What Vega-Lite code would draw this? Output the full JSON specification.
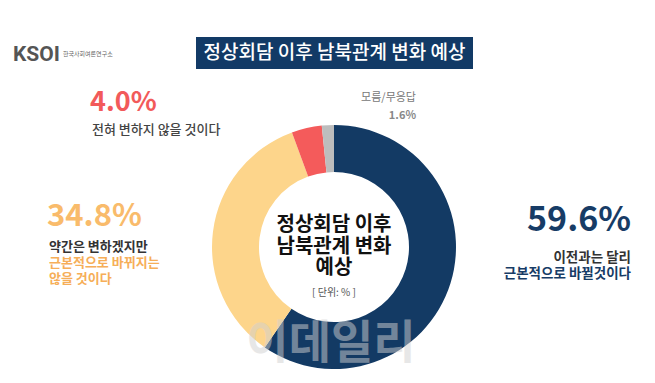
{
  "$schema": "https://vega.github.io/schema/vega-lite/v6.json",
  "width": 655,
  "height": 383,
  "autosize": {"type": "fit", "contains": "padding"},
  "padding": 0,
  "background": "white",
  "config": {"view": {"stroke": null}, "font": "Noto Sans CJK KR"},
  "data": {"values": [
    {"cat": "근본적으로 바뀔 것", "share": 0.596, "ord": 1},
    {"cat": "약간 변하지만 근본적으로는 아님", "share": 0.348, "ord": 2},
    {"cat": "전혀 변하지 않을 것", "share": 0.040, "ord": 3},
    {"cat": "모름/무응답", "share": 0.016, "ord": 4}
  ]},
  "layer": [
    {
      "data": {"values": [{}]},
      "layer": [
        {"mark": {"type": "rect", "x": 195, "x2": 472, "y": 36, "y2": 68, "color": "#123a66"}, "encoding": {}},
        {"mark": {"type": "text", "text": "정상회담 이후 남북관계 변화 예상", "x": 333.5, "y": 52, "align": "center", "baseline": "middle", "fontSize": 19, "fontWeight": 500, "color": "white"}},
        {"mark": {"type": "text", "text": "KSOI", "x": 12, "y": 60, "align": "left", "baseline": "alphabetic", "fontSize": 21, "fontWeight": "bold", "color": "#555555", "font": "Roboto"}},
        {"mark": {"type": "rule", "x": 61, "x2": 117, "y": 46, "y2": 46, "color": "#cccccc", "strokeWidth": 0.5}, "encoding": {}},
        {"mark": {"type": "rule", "x": 61, "x2": 117, "y": 59, "y2": 59, "color": "#cccccc", "strokeWidth": 0.5}, "encoding": {}},
        {"mark": {"type": "text", "text": "한국사회여론연구소", "x": 62, "y": 55, "align": "left", "baseline": "alphabetic", "fontSize": 6, "color": "#666666"}},
        {"mark": {"type": "rule", "x": 90, "x2": 306, "y": 115, "y2": 115, "color": "#aaaaaa", "strokeWidth": 1}, "encoding": {}},
        {"mark": {"type": "rule", "x": 306, "x2": 306, "y": 115, "y2": 127, "color": "#aaaaaa", "strokeWidth": 1}, "encoding": {}},
        {"mark": {"type": "rule", "x": 326, "x2": 415, "y": 104, "y2": 104, "color": "#aaaaaa", "strokeWidth": 1}, "encoding": {}},
        {"mark": {"type": "rule", "x": 326, "x2": 326, "y": 104, "y2": 124, "color": "#aaaaaa", "strokeWidth": 1}, "encoding": {}},
        {"mark": {"type": "rule", "x": 48, "x2": 213, "y": 232, "y2": 232, "color": "#aaaaaa", "strokeWidth": 1}, "encoding": {}},
        {"mark": {"type": "rule", "x": 454, "x2": 632, "y": 240, "y2": 240, "color": "#aaaaaa", "strokeWidth": 1}, "encoding": {}},
        {"mark": {"type": "text", "text": "전혀 변하지 않을 것이다", "x": 91, "y": 133, "align": "left", "baseline": "alphabetic", "fontSize": 13, "fontWeight": 500, "color": "#444444"}},
        {"mark": {"type": "text", "text": "약간은 변하겠지만", "x": 48, "y": 250, "align": "left", "baseline": "alphabetic", "fontSize": 13, "fontWeight": "bold", "color": "#333333"}},
        {"mark": {"type": "text", "text": ["근본적으로 바뀌지는", "않을 것이다"], "x": 48, "y": 266, "lineHeight": 15.5, "align": "left", "baseline": "alphabetic", "fontSize": 13, "fontWeight": "bold", "color": "#f6ae58"}},
        {"mark": {"type": "text", "text": "이전과는 달리", "x": 630, "y": 261, "align": "right", "baseline": "alphabetic", "fontSize": 13.5, "fontWeight": "bold", "color": "#333333"}},
        {"mark": {"type": "text", "text": "근본적으로 바뀔것이다", "x": 630, "y": 277, "align": "right", "baseline": "alphabetic", "fontSize": 13.5, "fontWeight": "bold", "color": "#173c66"}},
        {"mark": {"type": "text", "text": "모름/무응답", "x": 415, "y": 100, "align": "right", "baseline": "alphabetic", "fontSize": 11, "color": "#777777"}}
      ]
    },
    {
      "mark": {"type": "arc", "x": 333, "y": 246, "outerRadius": 122, "innerRadius": 75},
      "encoding": {
        "theta": {"field": "share", "type": "quantitative", "stack": true},
        "order": {"field": "ord", "type": "quantitative"},
        "color": {
          "field": "cat", "type": "nominal",
          "scale": {
            "domain": ["근본적으로 바뀔 것", "약간 변하지만 근본적으로는 아님", "전혀 변하지 않을 것", "모름/무응답"],
            "range": ["#133a64", "#fdd58b", "#f45b5b", "#bdbdbd"]
          },
          "legend": null
        }
      }
    },
    {
      "transform": [{"filter": "datum.ord == 3"}],
      "mark": {"type": "text", "x": 89, "y": 110, "align": "left", "baseline": "alphabetic", "fontSize": 27, "fontWeight": "bold", "color": "#f25a5a"},
      "encoding": {"text": {"field": "share", "type": "quantitative", "format": ".1%"}}
    },
    {
      "transform": [{"filter": "datum.ord == 2"}],
      "mark": {"type": "text", "x": 46, "y": 225, "align": "left", "baseline": "alphabetic", "fontSize": 31, "fontWeight": "bold", "color": "#f9bb6b"},
      "encoding": {"text": {"field": "share", "type": "quantitative", "format": ".1%"}}
    },
    {
      "transform": [{"filter": "datum.ord == 1"}],
      "mark": {"type": "text", "x": 630, "y": 230, "align": "right", "baseline": "alphabetic", "fontSize": 34, "fontWeight": "bold", "color": "#173c66"},
      "encoding": {"text": {"field": "share", "type": "quantitative", "format": ".1%"}}
    },
    {
      "transform": [{"filter": "datum.ord == 4"}],
      "mark": {"type": "text", "x": 415, "y": 118, "align": "right", "baseline": "alphabetic", "fontSize": 11, "fontWeight": "bold", "color": "#888888"},
      "encoding": {"text": {"field": "share", "type": "quantitative", "format": ".1%"}}
    },
    {
      "data": {"values": [{}]},
      "layer": [
        {"mark": {"type": "text", "text": ["정상회담 이후", "남북관계 변화", "예상"], "x": 333, "y": 230, "lineHeight": 21.5, "align": "center", "baseline": "alphabetic", "fontSize": 20, "fontWeight": "bold", "color": "#111111"}},
        {"mark": {"type": "text", "text": "[ 단위: % ]", "x": 333, "y": 295, "align": "center", "baseline": "alphabetic", "fontSize": 10, "color": "#555555"}},
        {"mark": {"type": "text", "text": "이데일리", "x": 330, "y": 343, "align": "center", "baseline": "middle", "fontSize": 46, "fontWeight": "bold", "color": "#d0d0d0", "opacity": 0.5}}
      ]
    }
  ]
}
